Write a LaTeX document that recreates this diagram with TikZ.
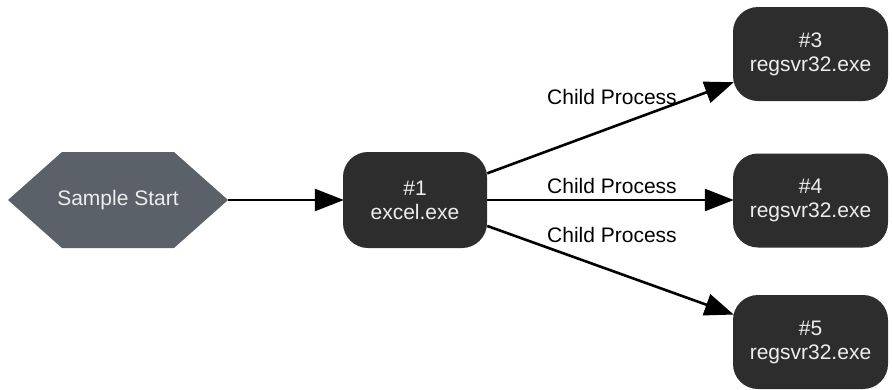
\documentclass[tikz,border=0pt]{standalone}
\usepackage{fontspec}
\setmainfont{Liberation Sans}
\usetikzlibrary{arrows.meta}
\definecolor{procfill}{HTML}{2D2D2D}
\definecolor{startfill}{HTML}{5B6169}
\definecolor{nodetext}{HTML}{EDEDED}
\begin{document}
\begin{tikzpicture}[x=1pt,y=-1pt,
  every node/.style={font=\fontsize{21}{24}\selectfont, inner sep=0pt, align=center},
  proc/.style={rectangle, rounded corners=25pt, fill=procfill, text=nodetext, minimum width=155pt, minimum height=94pt},
  mainproc/.style={proc, minimum width=144pt, minimum height=96pt},
  startnode/.style={rectangle, minimum width=220pt, minimum height=96pt, text=nodetext},
  edge/.style={line width=2.6pt, -{Triangle[length=29pt,width=22pt]}, shorten >=-1pt},
  lbl/.style={text=black}
]
\useasboundingbox (0,0) rectangle (892,389);
% start hexagon
\fill[startfill] (8,200) -- (62,152) -- (174,152) -- (228,200) -- (174,248) -- (62,248) -- cycle;
\node[startnode] (s) at (118,200) {Sample Start};
\node[mainproc] (n1) at (415,200) {\#1\\excel.exe};
\node[proc] (n3) at (810.5,54) {\#3\\regsvr32.exe};
\node[proc] (n4) at (810.5,200.5) {\#4\\regsvr32.exe};
\node[proc] (n5) at (810.5,342) {\#5\\regsvr32.exe};
\draw[edge] (s.east) -- (n1.west);
\draw[edge] (n1) -- (n3);
\draw[edge] (n1.east) -- (n4.west |- n1.east);
\draw[edge] (n1) -- (n5);
\node[lbl] (l3) at (612,97) {Child Process};
\node[lbl] (l4) at (612,186) {Child Process};
\node[lbl] (l5) at (612,235) {Child Process};
\end{tikzpicture}
\end{document}
